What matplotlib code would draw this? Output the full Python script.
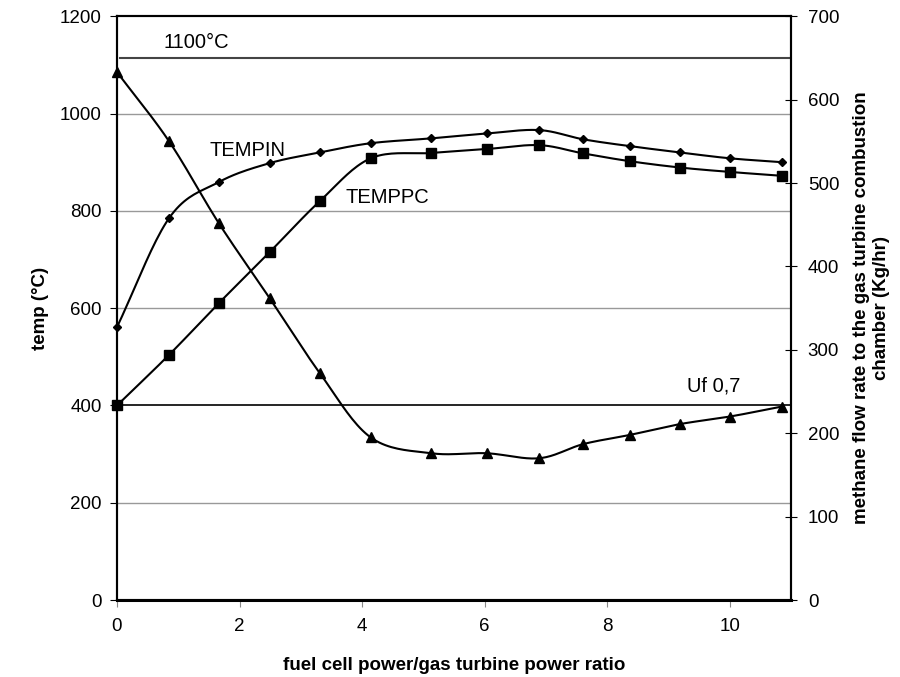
import numpy as np
import matplotlib.pyplot as plt

plt.rcParams['font.family'] = ['Liberation Sans', 'DejaVu Sans']

# power ratio (x) for each computed point
ratio = [0, 0.85, 1.66, 2.49, 3.31, 4.14, 5.13, 6.03, 6.89, 7.61, 8.37, 9.19, 10.0, 10.85]
tempin = [561, 785, 859, 898, 920, 939, 949, 959, 966, 947, 933, 920, 908, 900]
temppc = [400, 504, 610, 715, 820, 908, 919, 927, 935, 918, 902, 889, 880, 872]
methane = [633, 550, 452, 362, 272, 195, 176, 176, 170, 187, 198, 211, 220, 232]

t_limit = 1115  # line is drawn a little above 1100 in the source
t_uf = 400


def smooth(x, y, n=20):
    # Catmull-Rom curve through the points, like excel's smoothed lines
    x = np.asarray(x, float)
    y = np.asarray(y, float)
    px = np.concatenate([[2 * x[0] - x[1]], x, [2 * x[-1] - x[-2]]])
    py = np.concatenate([[2 * y[0] - y[1]], y, [2 * y[-1] - y[-2]]])
    xs, ys = [], []
    t = np.linspace(0, 1, n, endpoint=False)
    for i in range(1, len(px) - 2):
        for p, out in ((px, xs), (py, ys)):
            p0, p1, p2, p3 = p[i - 1], p[i], p[i + 1], p[i + 2]
            out.extend(0.5 * (2 * p1 + (-p0 + p2) * t + (2 * p0 - 5 * p1 + 4 * p2 - p3) * t ** 2
                              + (-p0 + 3 * p1 - 3 * p2 + p3) * t ** 3))
    xs.append(x[-1])
    ys.append(y[-1])
    return xs, ys


fig = plt.figure(figsize=(9, 6.77), dpi=100)
ax = fig.add_axes([0.13, 0.1137, 0.749, 0.8623])
ax2 = ax.twinx()

ax.set_xlim(0, 11)
ax.set_ylim(0, 1200)
ax2.set_ylim(0, 700)

for yv in [200, 600, 800, 1000]:
    ax.axhline(yv, color='#999999', lw=1, zorder=0)
ax.axhline(t_limit, xmin=0.005, color='#444444', lw=1.5, zorder=1)
ax.axhline(t_uf, color='black', lw=1.2, zorder=1)

xs, ys = smooth(ratio, tempin)
ax.plot(xs, ys, color='black', lw=1.5)
ax.plot(ratio, tempin, 'D', color='black', ms=4.5, clip_on=False)
xs, ys = smooth(ratio, temppc)
ax.plot(xs, ys, color='black', lw=1.5)
ax.plot(ratio, temppc, 's', color='black', ms=6.5, clip_on=False)
xs, ys = smooth(ratio, methane)
ax2.plot(xs, ys, color='black', lw=1.5)
ax2.plot(ratio, methane, '^', color='black', ms=6.5, clip_on=False)

ax.text(1.3, 1147, '1100°C', fontsize=14.5, ha='center', va='center')
ax.text(2.13, 925, 'TEMPIN', fontsize=14.5, ha='center', va='center')
ax.text(4.41, 828, 'TEMPPC', fontsize=14.5, ha='center', va='center')
ax.text(9.74, 440, 'Uf 0,7', fontsize=14.5, ha='center', va='center')

ax.set_xticks(range(0, 11, 2))
ax.set_yticks(range(0, 1201, 200))
ax2.set_yticks(range(0, 701, 100))
ax.tick_params(axis='both', labelsize=13.5, length=5, color='#888888', pad=8)
ax.tick_params(axis='y', color='black', pad=6)
ax2.tick_params(axis='y', labelsize=13.5, length=8, direction='inout', pad=8)

for a in (ax, ax2):
    for s in a.spines.values():
        s.set_linewidth(1.5)
ax.spines['bottom'].set_linewidth(2.2)

ax.set_xlabel('fuel cell power/gas turbine power ratio', fontsize=13.5, fontweight='bold', labelpad=16)
ax.set_ylabel('temp (°C)', fontsize=13.5, fontweight='bold', va='center')
ax.yaxis.set_label_coords(-0.114, 0.5)
ax2.set_ylabel('methane flow rate to the gas turbine combustion\nchamber (Kg/hr)',
               fontsize=13.5, fontweight='bold', labelpad=10)

fig.savefig('out.png', dpi=100)
